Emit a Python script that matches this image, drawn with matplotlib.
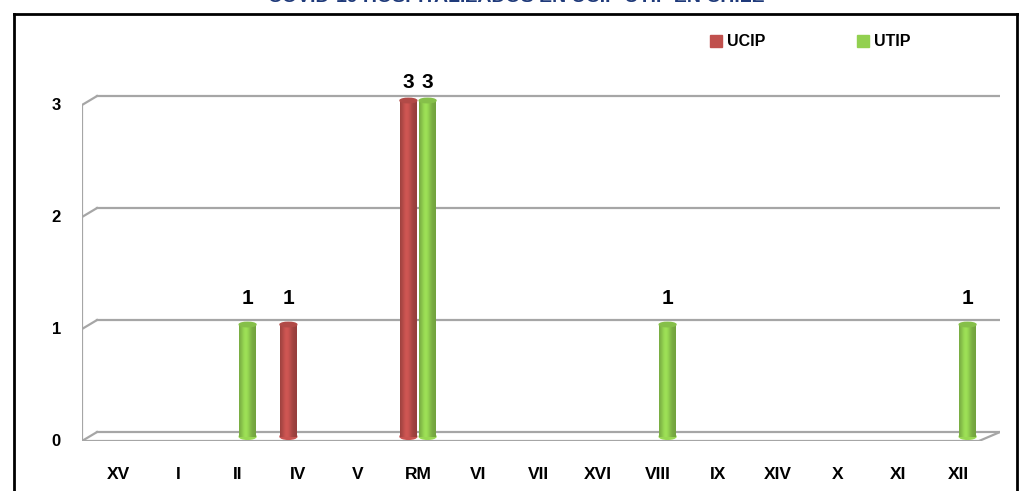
import numpy as np
import matplotlib.pyplot as plt
from matplotlib.colors import to_rgb
from matplotlib.lines import Line2D
from matplotlib.patches import Ellipse, Rectangle

regions = ['XV', 'I', 'II', 'IV', 'V', 'RM', 'VI', 'VII', 'XVI', 'VIII', 'IX', 'XIV', 'X', 'XI', 'XII']
ucip = [0, 0, 0, 1, 0, 3, 0, 0, 0, 0, 0, 0, 0, 0, 0]
utip = [0, 0, 1, 0, 0, 3, 0, 0, 0, 1, 0, 0, 0, 0, 1]
y_ticks = [0, 1, 2, 3]
title = 'COVID-19 HOSPITALIZADOS EN UCIP-UTIP EN CHILE'

RED = '#C0504D'
GREEN = '#92D050'
GRID = '#A6A6A6'
FONT = 'Liberation Sans'

W, H = 1033, 491
fig = plt.figure(figsize=(W / 100, H / 100), dpi=100)
fig.patch.set_facecolor('white')

# axes in pixel box: front-left wall at x=82, floor front at y=441
ax = fig.add_axes([82 / W, 1 - 441 / H, (1000 - 82) / W, (441 - 30) / H])
ax.set_xlim(-0.5, 14.5 + 0.3)
ax.set_ylim(0, (441 - 30) / 112)
ax.axis('off')

dx, dy = 0.25, 0.08  # depth offset of the back wall
label_cap = 3.2      # data labels can't go higher than this (plot area top)


def draw_cyl(x0, width, height, color):
    """Cylinder-ish bar with horizontal shading."""
    if height <= 0:
        return
    base = np.array(to_rgb(color))
    t = np.linspace(0, 1, 40)
    # light stripe left of centre, darker edges
    shade = 0.78 + 0.3 * np.exp(-((t - 0.4) / 0.3) ** 2)
    cols = np.clip(base[None, :] * shade[:, None], 0, 1)
    img = cols[None, :, :]
    bottom = 0.04
    ax.imshow(img, extent=(x0, x0 + width, bottom, bottom + height),
              aspect='auto', interpolation='bilinear', zorder=3)
    ax.add_patch(Ellipse((x0 + width / 2, bottom), width, 0.05,
                         color=cols[20], zorder=2.9))
    ax.add_patch(Ellipse((x0 + width / 2, bottom + height), width, 0.04,
                         color=np.clip(base * 0.92, 0, 1), zorder=3.1))


# back wall gridlines and left wall
for v in y_ticks:
    ax.plot([-0.5 + dx, 14.5 + dx + 0.05], [v + dy, v + dy], color=GRID, lw=1.6, zorder=1)
    ax.plot([-0.5, -0.5 + dx], [v, v + dy], color=GRID, lw=1.6, zorder=1)
    ax.text(-0.93, v + 0.0, str(v), ha='center', va='center', fontsize=12,
            fontweight='bold', family=FONT)
ax.plot([-0.5, -0.5], [0, y_ticks[-1]], color=GRID, lw=1.6, zorder=1)
# floor front edge
ax.plot([-0.5, 14.5 - 0.05], [0, 0], color=GRID, lw=1.6, zorder=1)
ax.plot([14.5 - 0.05, 14.5 + dx + 0.05], [0, dy], color=GRID, lw=1.6, zorder=1)

bw = 0.28
for i, name in enumerate(regions):
    c = i + 0.1
    draw_cyl(c - bw - 0.02, bw, ucip[i], RED)
    draw_cyl(c + 0.02, bw, utip[i], GREEN)
    if ucip[i] > 0:
        ax.text(c - bw / 2 - 0.02, min(ucip[i] + 0.27, label_cap), str(ucip[i]),
                ha='center', va='center', fontsize=15, fontweight='bold', family=FONT)
    if utip[i] > 0:
        ax.text(c + bw / 2 + 0.02, min(utip[i] + 0.27, label_cap), str(utip[i]),
                ha='center', va='center', fontsize=15, fontweight='bold', family=FONT)
    ax.text(i + 0.1, -0.3, name, ha='center', va='center', fontsize=12.5,
            fontweight='bold', family=FONT)

# legend
for lx, lab, col in [(710, 'UCIP', RED), (857, 'UTIP', GREEN)]:
    fig.add_artist(Rectangle((lx / W, 1 - 47 / H), 12 / W, 12 / H, color=col,
                             transform=fig.transFigure))
    fig.text((lx + 17) / W, 1 - 41 / H, lab, ha='left', va='center', fontsize=11.5,
             fontweight='bold', family=FONT)

# outer frame
for xs, ys in [([14, 14], [14, H + 5]), ([1017, 1017], [14, H + 5]), ([14, 1017], [14, 14])]:
    fig.add_artist(Line2D([x / W for x in xs], [1 - y / H for y in ys], color='black',
                          lw=2, transform=fig.transFigure))

# title (cut off by top edge as in the source)
fig.text(516 / W, 1 + 3 / H, title, ha='center', va='center', fontsize=14,
         fontweight='bold', color='#1F3A7A', family=FONT)

fig.savefig('out.png', dpi=100)
